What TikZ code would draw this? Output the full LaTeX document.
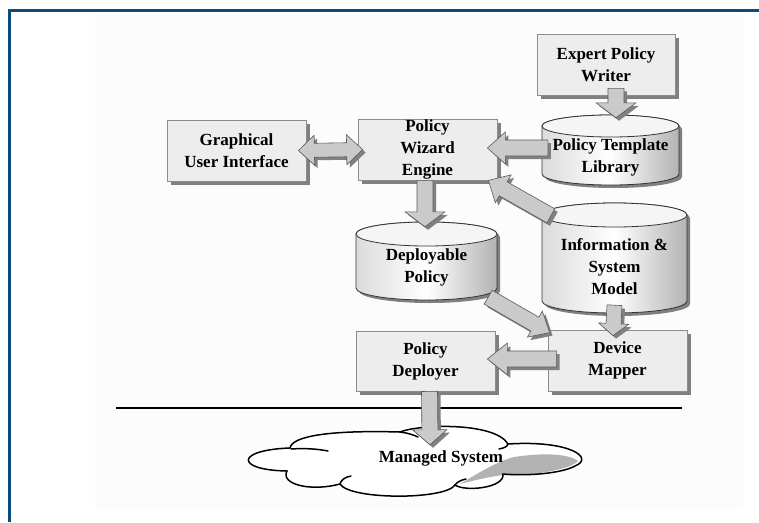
\documentclass[tikz,border=0pt]{standalone}
\usepackage{fontspec}
\setmainfont{Liberation Serif}
\usetikzlibrary{calc,shadows}

\definecolor{framebl}{RGB}{12,76,122}
\definecolor{pagebg}{RGB}{252,252,252}
\definecolor{boxfill}{RGB}{237,237,237}
\definecolor{boxline}{RGB}{140,140,140}
\definecolor{arrfill}{RGB}{202,202,202}
\definecolor{arrline}{RGB}{90,90,90}
\definecolor{shadowgray}{RGB}{128,128,128}
\definecolor{cloudgray}{RGB}{178,178,178}

\tikzset{
  lbl/.style={font=\bfseries\fontsize{17}{22}\selectfont, align=center, inner sep=0pt},
  box/.style={lbl, draw=boxline, line width=0.8pt, fill=boxfill,
    minimum width=139pt, minimum height=61pt,
    drop shadow={shadow xshift=4pt, shadow yshift=-4pt, fill=shadowgray, opacity=1}},
  drumarea/.style={lbl, minimum width=#1},
  drumbody/.style={draw=black!80, line width=0.8pt,
    left color=black!14, right color=black!30, middle color=white},
  drumtop/.style={draw=black!80, line width=0.8pt, fill=black!4},
  arrbody/.style={fill=arrfill, draw=arrline, line width=0.6pt, line join=miter},
  arrshadow/.style={fill=shadowgray, transform canvas={shift={(3pt,-3pt)}}},
  cloudline/.style={draw=black, line width=1.5pt, line cap=round},
}

% block arrow from #1 (tail) to #2 (tip); #3 half shaft, #4 half head, #5 head length
\newcommand{\bapath}[2]{($(ba-t)!#1!90:(ba-h)$) -- ($(ba-n)!#1!90:(ba-h)$)
  -- ($(ba-n)!#2!90:(ba-h)$) -- (ba-h) -- ($(ba-n)!#2!-90:(ba-h)$)
  -- ($(ba-n)!#1!-90:(ba-h)$) -- ($(ba-t)!#1!-90:(ba-h)$) -- cycle}
\newcommand{\blockarrow}[5]{%
  \coordinate (ba-t) at (#1);
  \coordinate (ba-h) at (#2);
  \coordinate (ba-n) at ($(ba-h)!#5!(ba-t)$);
  \path[arrshadow] \bapath{#3}{#4};
  \path[arrbody] \bapath{#3}{#4};
}
% block arrow with heads at both ends
\newcommand{\dbpath}[2]{(da-a) -- ($(da-na)!#2!90:(da-b)$) -- ($(da-na)!#1!90:(da-b)$)
  -- ($(da-nb)!#1!-90:(da-a)$) -- ($(da-nb)!#2!-90:(da-a)$) -- (da-b)
  -- ($(da-nb)!#2!90:(da-a)$) -- ($(da-nb)!#1!90:(da-a)$)
  -- ($(da-na)!#1!-90:(da-b)$) -- ($(da-na)!#2!-90:(da-b)$) -- cycle}
\newcommand{\doublearrow}[5]{%
  \coordinate (da-a) at (#1);
  \coordinate (da-b) at (#2);
  \coordinate (da-na) at ($(da-a)!#5!(da-b)$);
  \coordinate (da-nb) at ($(da-b)!#5!(da-a)$);
  \path[arrshadow] \dbpath{#3}{#4};
  \path[arrbody] \dbpath{#3}{#4};
}
% drum (database) outline: centre x, top centre y, bottom centre y, x radius, y radius
\newcommand{\drumshape}[5]{%
  \fill[shadowgray] (#1-#4+3,-#2-3) -- (#1-#4+3,-#3-3)
    arc[start angle=180, end angle=360, x radius=#4, y radius=#5]
    -- (#1+#4+3,-#2-3)
    arc[start angle=0, end angle=180, x radius=#4, y radius=#5] -- cycle;
  \path[drumbody] (#1-#4,-#2) -- (#1-#4,-#3)
    arc[start angle=180, end angle=360, x radius=#4, y radius=#5]
    -- (#1+#4,-#2)
    arc[start angle=0, end angle=180, x radius=#4, y radius=#5] -- cycle;
  \path[drumtop] (#1,-#2) ellipse[x radius=#4, y radius=#5];
}

\begin{document}
\begin{tikzpicture}[x=1pt, y=1pt]
  \useasboundingbox (0,0) rectangle (759,-522);
  \fill[white] (0,0) rectangle (759,-522);
  \fill[pagebg] (95,-15) rectangle (743,-510);

  % frame
  \draw[framebl, line width=3pt] (9,-522) -- (9,-10) -- (759,-10);

  % boxes
  \node[box] (gui) at (236.5,-150.5) {Graphical\\User Interface};
  \node[box] (pwe) at (427.5,-149.5) {Policy\\Wizard\\Engine};
  \node[box, minimum width=138pt] (epw) at (606,-64.5) {Expert Policy\\Writer};
  \node[box] (dm) at (617.5,-360.5) {Device\\Mapper};
  \node[box, minimum height=60pt] (pd) at (425.5,-361) {Policy\\Deployer};

  % repositories
  \drumshape{610.5}{126}{174}{68.5}{11}
  \node[drumarea=137pt, minimum height=55pt] (ptl) at (610.5,-157.5) {Policy Template\\Library};
  \drumshape{614.5}{215}{301}{72.5}{12}
  \node[drumarea=145pt, minimum height=92pt] (ism) at (614.5,-267) {Information \&\\System\\Model};
  \drumshape{426.5}{234}{288}{70.5}{12}
  \node[drumarea=141pt, minimum height=66pt] (dp) at (426.5,-267) {Deployable\\Policy};

  % separator
  \draw[black, line width=1.2pt] (116,-408) -- (682,-408);

  % managed system cloud
  \node[minimum width=330pt, minimum height=72pt, inner sep=0pt] (cloud) at (413,-461) {};
  \fill[white] (290,-448) .. controls (292,-436) and (330,-430) .. (400,-432)
    .. controls (420,-424) and (495,-422) .. (508,-444)
    .. controls (570,-440) and (595,-458) .. (575,-466)
    .. controls (560,-474) and (525,-476) .. (503,-474)
    .. controls (505,-488) and (465,-492) .. (455,-485)
    .. controls (445,-500) and (350,-500) .. (340,-484)
    .. controls (310,-492) and (280,-484) .. (287,-471)
    .. controls (235,-470) and (235,-450) .. (290,-448) -- cycle;
  \fill[cloudgray] (514,-457) .. controls (540,-453) and (568,-453) .. (578,-461)
    .. controls (570,-470) and (530,-476) .. (503,-475)
    .. controls (482,-478) and (468,-482) .. (460,-484)
    .. controls (472,-477) and (495,-462) .. (514,-457) -- cycle;
  \path[cloudline] (290,-448) .. controls (292,-436) and (330,-430) .. (400,-432)
    .. controls (420,-424) and (495,-422) .. (508,-444)
    .. controls (570,-440) and (595,-458) .. (575,-466)
    .. controls (560,-474) and (525,-476) .. (503,-474)
    .. controls (505,-488) and (465,-492) .. (455,-485)
    .. controls (445,-500) and (350,-500) .. (340,-484)
    .. controls (310,-492) and (280,-484) .. (287,-471)
    .. controls (235,-470) and (235,-450) .. (290,-448);
  \path[cloudline] (291,-449) .. controls (305,-448) and (318,-449) .. (328,-451);
  \path[cloudline] (400,-432) .. controls (408,-433) and (414,-435) .. (418,-437);
  \path[cloudline] (508,-444) .. controls (507,-447) and (504,-448) .. (499,-449);
  \path[cloudline] (340,-484) .. controls (341,-480) and (345,-477) .. (351,-476);
  \path[cloudline] (455,-485) .. controls (457,-482) and (461,-480) .. (466,-479);
  \node[lbl] (mslbl) at (441,-458) {Managed System};

  % flows
  \doublearrow{[xshift=-8pt]gui.east}{[xshift=5pt]pwe.west}{7pt}{15pt}{16pt}
  \blockarrow{[xshift=6pt, yshift=9.5pt]ptl.west}{[xshift=-10pt, yshift=1.5pt]pwe.east}{8pt}{16pt}{18pt}
  \blockarrow{[xshift=10pt, yshift=7pt]epw.south}{[xshift=5.5pt, yshift=12pt]ptl.north}{8pt}{20pt}{15pt}
  \blockarrow{[xshift=9pt, yshift=5pt]ism.north west}{[xshift=-9pt]pwe.south east}{8pt}{16pt}{17pt}
  \blockarrow{[xshift=-2.5pt]pwe.south}{[xshift=-1.5pt, yshift=7pt]dp.north}{8pt}{20pt}{15pt}
  \blockarrow{[xshift=-9pt, yshift=3pt]dp.south east}{[xshift=2pt, yshift=-3pt]dm.north west}{8pt}{15pt}{17pt}
  \blockarrow{[yshift=8pt]ism.south}{[xshift=-4.5pt, yshift=-6pt]dm.north}{7.5pt}{15pt}{12pt}
  \blockarrow{[xshift=9pt, yshift=1.5pt]dm.west}{[xshift=-8pt, yshift=2pt]pd.east}{8pt}{16pt}{20pt}
  \blockarrow{[xshift=4pt]pd.south}{[xshift=17pt, yshift=-20pt]cloud.north}{8pt}{17pt}{15pt}
\end{tikzpicture}
\end{document}
